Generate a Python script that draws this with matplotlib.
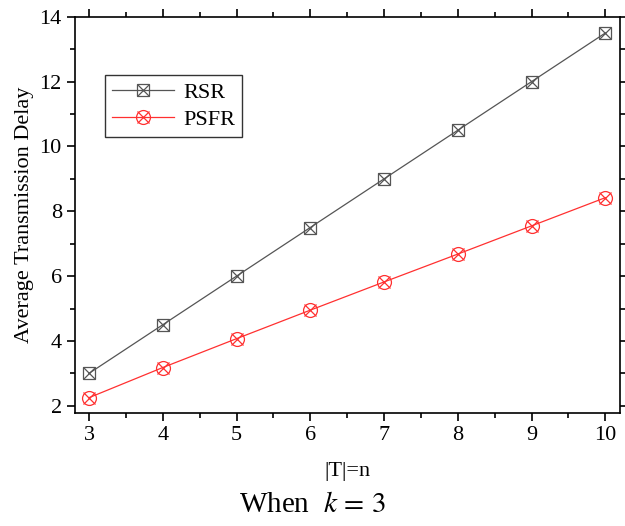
import matplotlib.pyplot as plt
from matplotlib.ticker import MultipleLocator

plt.rcParams['font.family'] = ['Liberation Serif', 'DejaVu Serif']
plt.rcParams['mathtext.fontset'] = 'stix'

n = [3, 4, 5, 6, 7, 8, 9, 10]
rsr = [3.0, 4.5, 6.0, 7.5, 9.0, 10.5, 12.0, 13.5]
psfr = [2.25, 3.18, 4.07, 4.95, 5.82, 6.68, 7.55, 8.42]

fig = plt.figure(figsize=(6.25, 5.26), dpi=100)
ax = fig.add_axes([0.12, 0.215, 0.872, 0.753])

gray = '#555555'
red = '#ff3030'

l1, = ax.plot(n, rsr, color=gray, lw=0.9, marker='s', ms=8, mfc='none', mec=gray, mew=0.9)
x1, = ax.plot(n, rsr, ls='none', marker='x', ms=8, mec=gray, mew=0.9)
l2, = ax.plot(n, psfr, color=red, lw=0.9, marker='o', ms=10, mfc='none', mec=red, mew=0.9)
x2, = ax.plot(n, psfr, ls='none', marker='x', ms=8, mec=red, mew=0.9)

ax.set_xlim(2.81, 10.2)
ax.set_ylim(1.78, 14)
ax.xaxis.set_major_locator(MultipleLocator(1))
ax.xaxis.set_minor_locator(MultipleLocator(0.5))
ax.yaxis.set_major_locator(MultipleLocator(2))
ax.yaxis.set_minor_locator(MultipleLocator(1))

ax.tick_params(which='both', direction='out', top=True, right=True, labelsize=16, width=1.2)
ax.tick_params(which='major', length=6)
ax.tick_params(which='minor', length=3.5)
for s in ax.spines.values():
    s.set_linewidth(1.2)

ax.set_ylabel('Average Transmission Delay', fontsize=16)
ax.set_xlabel('|T|=n', fontsize=16, labelpad=12)
fig.text(0.5, 0.04, r'When  $k\,=\,3$', ha='center', va='center', fontsize=21)

leg = ax.legend([(l1, x1), (l2, x2)], ['RSR', 'PSFR'], loc='upper left',
                bbox_to_anchor=(0.035, 0.88), fontsize=16, frameon=True,
                fancybox=False, edgecolor='black', handlelength=2.8,
                borderpad=0.3, labelspacing=0.3, handletextpad=0.4)
leg.get_frame().set_linewidth(1.0)

fig.savefig('out.png', dpi=100)
